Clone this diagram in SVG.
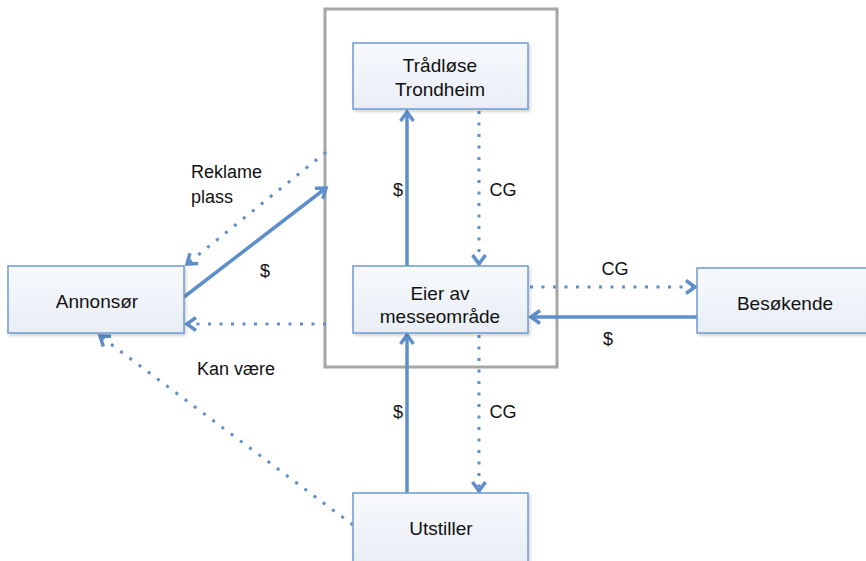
<svg xmlns="http://www.w3.org/2000/svg" width="866" height="561" viewBox="0 0 866 561">
  <style>
    .box { fill: url(#boxFill); stroke: #6E9AD0; stroke-width: 1.5; filter: url(#shadow); }
    .label { font-family: "Liberation Sans", Arial, sans-serif; font-size: 19px; fill: #111; text-anchor: middle; }
    .note { font-family: "Liberation Sans", Arial, sans-serif; font-size: 18px; fill: #111; }
    .solid { stroke: #5E8FCB; stroke-width: 3.5; fill: none; marker-end: url(#head); }
    .dotted { stroke: #5E8FCB; stroke-width: 3; fill: none; stroke-dasharray: 3 8.5; marker-end: url(#head); }
  </style>
  <defs>
    <linearGradient id="boxFill" x1="0" y1="0" x2="0" y2="1">
      <stop offset="0" stop-color="#F7F9FC"/>
      <stop offset="1" stop-color="#E9EEF6"/>
    </linearGradient>
    <filter id="shadow" x="-10%" y="-10%" width="125%" height="130%">
      <feDropShadow dx="1.5" dy="2" stdDeviation="1.5" flood-color="#000" flood-opacity="0.18"/>
    </filter>
    <!-- open chevron arrowhead shared by every connector -->
    <marker id="head" markerUnits="userSpaceOnUse" markerWidth="20" markerHeight="20" viewBox="-14 -10 18 20" refX="0" refY="0" orient="auto">
      <path d="M-9,-6.5 L0,0 L-9,6.5" fill="none" stroke="#5E8FCB" stroke-width="3.5" stroke-linejoin="miter"/>
    </marker>
  </defs>

  <rect width="866" height="561" fill="#ffffff"/>

  <!-- venue boundary -->
  <rect id="venue" x="325" y="9" width="232" height="358" fill="none" stroke="#A6A6A6" stroke-width="3"/>

  <g id="connectors">
    <line class="solid" x1="407" y1="266" x2="407" y2="112"/>
    <line class="dotted" x1="479" y1="111" x2="479" y2="264"/>
    <line class="dotted" x1="530" y1="287" x2="695" y2="287"/>
    <line class="solid" x1="697" y1="317" x2="531" y2="317"/>
    <line class="dotted" x1="479" y1="335" x2="479" y2="491"/>
    <line class="solid" x1="407" y1="493" x2="407" y2="335"/>
    <line class="solid" x1="184" y1="297" x2="326" y2="188"/>
    <line class="dotted" x1="326" y1="152" x2="187" y2="264"/>
    <line class="dotted" x1="326" y1="324" x2="187" y2="324"/>
    <line class="dotted" x1="353" y1="525" x2="100" y2="336"/>
  </g>

  <g id="tradlose">
    <rect class="box" x="353" y="43" width="175" height="66"/>
    <text class="label" x="440" y="72">Trådløse</text>
    <text class="label" x="440" y="96">Trondheim</text>
  </g>
  <g id="annonsor">
    <rect class="box" x="8" y="266" width="176" height="67"/>
    <text class="label" x="97" y="308">Annonsør</text>
  </g>
  <g id="eier">
    <rect class="box" x="353" y="266" width="175" height="67"/>
    <text class="label" x="440" y="300">Eier av</text>
    <text class="label" x="440" y="323">messeområde</text>
  </g>
  <g id="besokende">
    <rect class="box" x="697" y="268" width="172" height="65"/>
    <text class="label" x="785" y="310">Besøkende</text>
  </g>
  <g id="utstiller">
    <rect class="box" x="353" y="493" width="175" height="70"/>
    <text class="label" x="441" y="535">Utstiller</text>
  </g>

  <g id="labels">
    <text class="note" x="191" y="178">Reklame</text>
    <text class="note" x="191" y="203">plass</text>
    <text class="note" x="265" y="277" text-anchor="middle">$</text>
    <text class="note" x="197" y="375">Kan være</text>
    <text class="note" x="398" y="196" text-anchor="middle">$</text>
    <text class="note" x="503" y="196" text-anchor="middle">CG</text>
    <text class="note" x="615" y="275" text-anchor="middle">CG</text>
    <text class="note" x="608" y="345" text-anchor="middle">$</text>
    <text class="note" x="398" y="418" text-anchor="middle">$</text>
    <text class="note" x="503" y="418" text-anchor="middle">CG</text>
  </g>
</svg>
